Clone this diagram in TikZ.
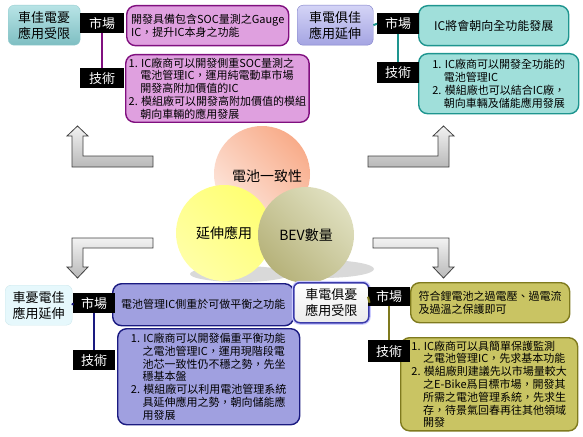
\documentclass[tikz,border=0pt]{standalone}
\usepackage{fontspec}
\setmainfont{Noto Sans CJK TC}
\usepackage{tikz}
\definecolor{pinkF}{HTML}{DFA0DF}
\definecolor{pinkD}{HTML}{80107F}
\definecolor{tealF}{HTML}{A0DFDA}
\definecolor{tealD}{HTML}{1E958F}
\definecolor{blueF}{HTML}{A0A0E0}
\definecolor{blueD}{HTML}{1A1A80}
\definecolor{oliveF}{HTML}{C9C463}
\definecolor{oliveD}{HTML}{7F7A1E}
\definecolor{salmon}{HTML}{F8AC8A}
\definecolor{peach}{HTML}{FDE6DC}
\definecolor{khakiL}{HTML}{E0E0C0}
\definecolor{khakiD}{HTML}{B6B27A}
\newcommand\hng{\hphantom{1.\ }}

\begin{document}
\begin{tikzpicture}[x=1pt,y=-1pt,
 lab/.style={draw,rounded corners=6pt,anchor=north west,align=center,inner sep=1pt,font=\fontsize{13}{16}\selectfont},
 tag/.style={fill=black,text=white,anchor=north west,inner sep=0pt,minimum width=42pt,minimum height=20pt,font=\fontsize{13}{13}\selectfont},
 box/.style={rounded corners=9pt,line width=1.4pt,anchor=north west,align=left,inner sep=3pt,font=\fontsize{11}{12.8}\selectfont},
 link/.style={line width=2pt},
 ball/.style={circle,minimum size=96pt,inner sep=0pt,font=\fontsize{14}{14}\selectfont},
 bigarrow/.style={draw=black!75,line width=0.8pt,top color=gray!10,bottom color=gray!55}]
 \useasboundingbox (0,0) rectangle (583,436);

 \draw[bigarrow] (153,156) -- (83,156) -- (83,136) -- (88,136) -- (77.5,126) -- (67,136) -- (72,136) -- (72,167) -- (153,167) -- cycle;
 \draw[bigarrow] (368,156) -- (438,156) -- (438,136) -- (433,136) -- (443.5,126) -- (454,136) -- (449,136) -- (449,167) -- (368,167) -- cycle;
 \draw[bigarrow] (153,238) -- (72,238) -- (72,267) -- (67,267) -- (77.5,278) -- (88,267) -- (83,267) -- (83,248) -- (153,248) -- cycle;
 \draw[bigarrow] (373,238) -- (449,238) -- (449,267) -- (454,267) -- (443.5,278) -- (433,267) -- (438,267) -- (438,248) -- (373,248) -- cycle;

 \fill[gray!30] (240,274) ellipse (50 and 8);
 \fill[gray!30] (322,269) ellipse (52 and 9);
 \node[ball,top color=salmon,bottom color=peach,shading angle=-45] (cTop) at (262,174) {};
 \node at (267,176) [font=\fontsize{14}{14}\selectfont] {電池一致性};
 \node[ball,top color=yellow!55,bottom color=yellow!35!white,shading angle=-45] (cLeft) at (224,233) {延伸應用};
 \node[ball,top color=khakiL,bottom color=khakiD,shading angle=-45] (cRight) at (306,235) {BEV數量};

 \node[lab,top color={rgb,255:red,184;green,228;blue,230},bottom color={rgb,255:red,126;green,190;blue,194},draw={rgb,255:red,150;green,205;blue,208},minimum width=72pt,minimum height=40pt] (lTL) at (8,5) {車佳電憂\\應用受限};
 \node[box,fill=pinkF,draw=pinkD,minimum width=162pt,minimum height=40pt] (mbTL) at (126,5) {開發具備包含SOC量測之Gauge\\IC，提升IC本身之功能};
 \node[box,fill=pinkF,draw=pinkD,minimum width=173pt,minimum height=67pt] (tbTL) at (125,54) {1. IC廠商可以開發側重SOC量測之\\\hng 電池管理IC，運用純電動車市場\\\hng 開發高附加價值的IC\\2. 模組廠可以開發高附加價值的模組\\\hng 朝向車輛的應用發展};
 \node[tag,minimum width=44pt] (mTL) at (80,13) {市場};
 \node[tag,minimum width=44pt] (tTL) at (80,68) {技術};
 \draw[link,pinkD] (mTL.south) -- (tTL.north);

 \node[lab,top color={rgb,255:red,212;green,212;blue,246},bottom color={rgb,255:red,164;green,164;blue,226},draw={rgb,255:red,126;green,126;blue,200},minimum width=76pt,minimum height=40pt] (lTR) at (297,5) {車電俱佳\\應用延伸};
 \node[box,fill=tealF,draw=tealD,minimum width=150pt,minimum height=40pt,font=\fontsize{12}{14}\selectfont] (mbTR) at (418,5) {IC將會朝向全功能發展};
 \node[box,fill=tealF,draw=tealD,minimum width=160pt,minimum height=60pt] (tbTR) at (418,53) {1. IC廠商可以開發全功能的\\\hng 電池管理IC\\2. 模組廠也可以結合IC廠，\\\hng 朝向車輛及儲能應用發展};
 \node[tag,minimum height=21pt] (mTR) at (377,13) {市場};
 \node[tag,minimum height=21pt] (tTR) at (377,62) {技術};
 \draw[link,tealD] (lTR.east) -- (mTR.west);
 \draw[link,tealD] (mTR.south) -- (tTR.north);

 \node[lab,fill={rgb,255:red,230;green,248;blue,252},draw={rgb,255:red,205;green,231;blue,236},minimum width=67pt,minimum height=40pt] (lBL) at (5,285) {車憂電佳\\應用延伸};
 \node[box,fill=blueF,draw=blueD,minimum width=181pt,minimum height=42pt] (mbBL) at (112,283) {電池管理IC側重於可做平衡之功能};
 \node[box,fill=blueF,draw=blueD,minimum width=182pt,minimum height=96pt] (tbBL) at (117,328) {1. IC廠商可以開發偏重平衡功能\\\hng 之電池管理IC，運用現階段電\\\hng 池芯一致性仍不穩之勢，先坐\\\hng 穩基本盤\\2. 模組廠可以利用電池管理系統\\\hng 具延伸應用之勢，朝向儲能應\\\hng 用發展};
 \node[tag] (mBL) at (73,293) {市場};
 \node[tag] (tBL) at (73,350) {技術};
 \draw[link,blueD] (lBL.east) -- (mBL.west);
 \draw[link,blueD] (mBL.south) -- (tBL.north);

 \node[lab,top color=white,bottom color=gray!15,draw={rgb,255:red,58;green,58;blue,170},line width=1.5pt,preaction={draw=blue!20,line width=4pt},minimum width=75pt,minimum height=40pt] (lBR) at (293,282) {車電俱憂\\應用受限};
 \node[box,fill=oliveF,draw=oliveD,minimum width=159pt,minimum height=40pt] (mbBR) at (410,282) {符合鋰電池之過電壓、過電流\\及過溫之保護即可};
 \node[box,fill=oliveF,draw=oliveD,minimum width=177pt,minimum height=93pt] (tbBR) at (400,337) {1. IC廠商可以具簡單保護監測\\\hng 之電池管理IC，先求基本功能\\2. 模組廠則建議先以市場量較大\\\hng 之E-Bike爲目標市場，開發其\\\hng 所需之電池管理系統，先求生\\\hng 存，待景氣回春再往其他領域\\\hng 開發};
 \node[tag,minimum height=19pt] (mBR) at (368,287) {市場};
 \node[tag,minimum height=22pt] (tBR) at (368,340) {技術};
 \draw[link,oliveD] (lBR.east) -- (mBR.west);
 \draw[link,oliveD] (mBR.south) -- (tBR.north);
\end{tikzpicture}
\end{document}
